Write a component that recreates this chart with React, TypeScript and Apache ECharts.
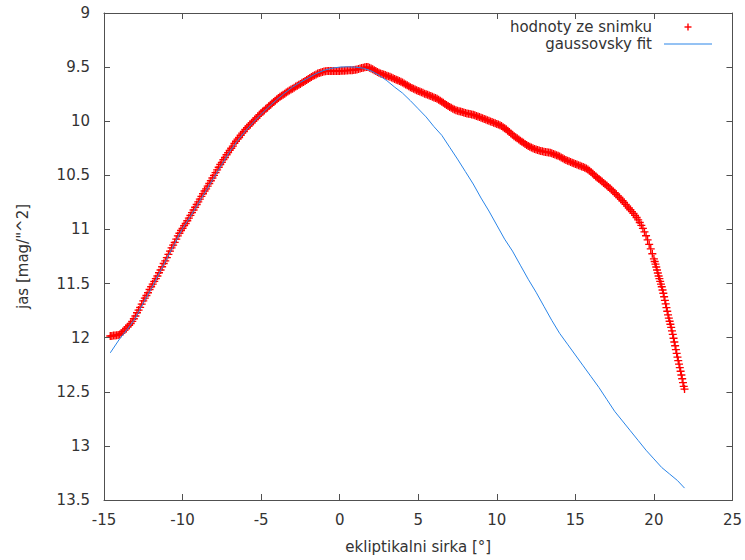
import React, { useEffect, useRef } from "react";
import * as echarts from "echarts";

// axis ranges / ticks
const xMin = -15;
const xMax = 25;
const xInterval = 5;
const yMin = 9;
const yMax = 13.5;
const yInterval = 0.5;

const xTitle = "ekliptikalni sirka [°]";
const yTitle = 'jas [mag/"^2]';
const legendData = "hodnoty ze snimku";
const legendFit = "gaussovsky fit";

// measured brightness ("hodnoty ze snimku"), sampled every 0.1 deg from -14.6
const hodnotyStart = -14.6;
const hodnotyStep = 0.1;
const hodnotyY = [
  11.985, 11.985, 11.98, 11.98, 11.978, 11.975, 11.97, 11.96, 11.945, 11.93,
  11.915, 11.9, 11.885, 11.87, 11.85, 11.825, 11.8, 11.77, 11.745, 11.72,
  11.69, 11.66, 11.635, 11.61, 11.585, 11.555, 11.53, 11.505, 11.48, 11.455,
  11.43, 11.4, 11.375, 11.345, 11.315, 11.29, 11.26, 11.23, 11.2, 11.17,
  11.145, 11.12, 11.09, 11.06, 11.035, 11.01, 10.99, 10.965, 10.945, 10.92,
  10.895, 10.87, 10.845, 10.82, 10.795, 10.77, 10.745, 10.72, 10.695, 10.67,
  10.645, 10.625, 10.6, 10.575, 10.55, 10.525, 10.5, 10.475, 10.45, 10.425,
  10.4, 10.38, 10.355, 10.335, 10.31, 10.29, 10.27, 10.25, 10.23, 10.205,
  10.185, 10.165, 10.15, 10.13, 10.11, 10.095, 10.075, 10.06, 10.045, 10.03,
  10.015, 10.0, 9.985, 9.97, 9.955, 9.94, 9.925, 9.91, 9.9, 9.885,
  9.875, 9.86, 9.848, 9.835, 9.822, 9.81, 9.797, 9.785, 9.775, 9.765,
  9.755, 9.745, 9.735, 9.725, 9.715, 9.707, 9.7, 9.69, 9.68, 9.672,
  9.663, 9.655, 9.645, 9.637, 9.628, 9.62, 9.61, 9.6, 9.592, 9.583,
  9.575, 9.568, 9.56, 9.555, 9.55, 9.545, 9.54, 9.538, 9.537, 9.536,
  9.536, 9.535, 9.535, 9.536, 9.536, 9.535, 9.535, 9.534, 9.534, 9.533,
  9.532, 9.531, 9.53, 9.53, 9.528, 9.527, 9.525, 9.522, 9.518, 9.513,
  9.508, 9.505, 9.502, 9.5, 9.5, 9.505, 9.512, 9.52, 9.528, 9.536,
  9.545, 9.552, 9.558, 9.563, 9.568, 9.574, 9.579, 9.585, 9.59, 9.597,
  9.603, 9.61, 9.616, 9.622, 9.629, 9.635, 9.643, 9.652, 9.66, 9.668,
  9.677, 9.685, 9.694, 9.7, 9.708, 9.714, 9.72, 9.726, 9.732, 9.738,
  9.745, 9.75, 9.756, 9.762, 9.768, 9.774, 9.78, 9.786, 9.793, 9.802,
  9.81, 9.82, 9.83, 9.84, 9.85, 9.86, 9.868, 9.876, 9.884, 9.891,
  9.898, 9.903, 9.907, 9.911, 9.915, 9.92, 9.925, 9.928, 9.931, 9.934,
  9.937, 9.94, 9.945, 9.951, 9.957, 9.962, 9.968, 9.973, 9.979, 9.985,
  9.99, 9.996, 10.002, 10.008, 10.013, 10.019, 10.025, 10.03, 10.037, 10.045,
  10.055, 10.065, 10.075, 10.088, 10.1, 10.113, 10.126, 10.138, 10.148, 10.158,
  10.168, 10.18, 10.19, 10.2, 10.21, 10.22, 10.228, 10.236, 10.243, 10.25,
  10.256, 10.262, 10.267, 10.271, 10.275, 10.278, 10.281, 10.284, 10.286, 10.288,
  10.291, 10.296, 10.302, 10.308, 10.314, 10.32, 10.327, 10.335, 10.343, 10.351,
  10.359, 10.365, 10.371, 10.377, 10.383, 10.389, 10.395, 10.401, 10.406, 10.412,
  10.418, 10.424, 10.43, 10.437, 10.447, 10.458, 10.47, 10.483, 10.496, 10.51,
  10.522, 10.534, 10.546, 10.558, 10.57, 10.582, 10.594, 10.607, 10.62, 10.633,
  10.646, 10.66, 10.675, 10.69, 10.705, 10.72, 10.735, 10.751, 10.768, 10.785,
  10.802, 10.818, 10.835, 10.852, 10.87, 10.89, 10.912, 10.936, 10.962, 10.99,
  11.022, 11.058, 11.097, 11.138, 11.18, 11.225,
];

// steep tail of the measured data, sampled every 0.05 deg from 20.0
const hodnotyTailStart = 20.0;
const hodnotyTailStep = 0.05;
const hodnotyTailY = [
  11.272, 11.296, 11.32, 11.347, 11.375, 11.402, 11.43, 11.455, 11.48, 11.505,
  11.53, 11.56, 11.59, 11.622, 11.655, 11.688, 11.722, 11.756, 11.79, 11.819,
  11.848, 11.876, 11.905, 11.937, 11.97, 12.005, 12.04, 12.075, 12.11, 12.145,
  12.18, 12.212, 12.245, 12.277, 12.31, 12.345, 12.38, 12.415, 12.45, 12.475,
];

// gaussian fit line
const fitX = [
  -14.6, -14.0, -13.5, -13.0, -12.5, -12.0, -11.5, -11.0, -10.5, -10.0,
  -9.5, -9.0, -8.5, -8.0, -7.5, -7.0, -6.5, -6.0, -5.5, -5.0,
  -4.5, -4.0, -3.5, -3.0, -2.5, -2.0, -1.5, -1.0, -0.5, 0.0,
  0.5, 1.0, 1.5, 2.0, 2.5, 3.0, 3.5, 4.0, 4.5, 5.0,
  5.5, 6.0, 6.5, 7.0, 7.5, 8.0, 8.5, 9.0, 9.5, 10.0,
  10.5, 11.0, 11.5, 12.0, 12.5, 13.0, 13.5, 14.0, 14.5, 15.0,
  15.5, 16.0, 16.5, 17.0, 17.5, 18.0, 18.5, 19.0, 19.5, 20.0,
  20.5, 21.0, 21.5, 21.95,
];
const fitY = [
  12.14, 12.01, 11.92, 11.82, 11.68, 11.55, 11.41, 11.27, 11.13, 10.99,
  10.88, 10.76, 10.64, 10.52, 10.4, 10.28, 10.18, 10.09, 10.01, 9.935,
  9.865, 9.8, 9.74, 9.685, 9.64, 9.6, 9.56, 9.53, 9.51, 9.5,
  9.497, 9.5, 9.51, 9.535, 9.575, 9.625, 9.685, 9.74, 9.81, 9.885,
  9.96, 10.05, 10.13, 10.24, 10.35, 10.465, 10.58, 10.71, 10.83, 10.96,
  11.09, 11.2, 11.33, 11.46, 11.58, 11.71, 11.84, 11.96, 12.06, 12.16,
  12.26, 12.36, 12.46, 12.57, 12.68, 12.77, 12.86, 12.95, 13.04, 13.12,
  13.2, 13.26, 13.32, 13.39,
];

const RED = "#ff0000";
const BLUE = "#2a85e8";
const AXIS = "#505050";
const TEXT = "#333333";
const FONT = "DejaVu Sans";
const PLUS = "path://M4.15,0H5.85V4.15H10V5.85H5.85V10H4.15V5.85H0V4.15H4.15Z";

const r2 = (v: number) => Math.round(v * 1000) / 1000;

export default function App() {
  const ref = useRef<HTMLDivElement>(null);

  useEffect(() => {
    if (!ref.current) return;
    const chart = echarts.init(ref.current, null, { renderer: "svg" });

    const redData: [number, number][] = [];
    hodnotyY.forEach((y, i) => redData.push([r2(hodnotyStart + i * hodnotyStep), y]));
    hodnotyTailY.forEach((y, i) => redData.push([r2(hodnotyTailStart + i * hodnotyTailStep), y]));
    const fitData = fitX.map((x, i) => [x, fitY[i]]);

    const axisLine = { show: true, onZero: false, lineStyle: { color: AXIS, width: 1 } };
    const axisTick = { show: true, inside: true, length: 6, lineStyle: { color: AXIS, width: 1 } };

    chart.setOption({
      animation: false,
      textStyle: { fontFamily: FONT },
      grid: { left: 104, right: 12, top: 13, bottom: 60, containLabel: false },
      xAxis: [
        {
          type: "value",
          position: "bottom",
          min: xMin,
          max: xMax,
          interval: xInterval,
          axisLine,
          axisTick,
          splitLine: { show: false },
          axisLabel: {
            color: TEXT,
            fontSize: 15,
            fontFamily: FONT,
            margin: 12,
            showMinLabel: true,
            showMaxLabel: true,
          },
          name: xTitle,
          nameLocation: "middle",
          nameGap: 39,
          nameTextStyle: { color: TEXT, fontSize: 15, fontFamily: FONT },
        },
        {
          type: "value",
          position: "top",
          min: xMin,
          max: xMax,
          interval: xInterval,
          axisLine,
          axisTick,
          splitLine: { show: false },
          axisLabel: { show: false },
        },
      ],
      yAxis: [
        {
          type: "value",
          position: "left",
          inverse: true,
          min: yMin,
          max: yMax,
          interval: yInterval,
          axisLine,
          axisTick,
          splitLine: { show: false },
          axisLabel: {
            color: TEXT,
            fontSize: 15,
            fontFamily: FONT,
            margin: 14,
            showMinLabel: true,
            showMaxLabel: true,
          },
          name: yTitle,
          nameLocation: "middle",
          nameRotate: 90,
          nameGap: 74,
          nameTextStyle: { color: TEXT, fontSize: 15, fontFamily: FONT },
        },
        {
          type: "value",
          position: "right",
          inverse: true,
          min: yMin,
          max: yMax,
          interval: yInterval,
          axisLine,
          axisTick,
          splitLine: { show: false },
          axisLabel: { show: false },
        },
      ],
      series: [
        {
          type: "scatter",
          name: legendData,
          xAxisIndex: 0,
          yAxisIndex: 0,
          data: redData,
          symbol: PLUS,
          symbolSize: 8,
          itemStyle: { color: RED, opacity: 1 },
          silent: true,
        },
        {
          type: "line",
          name: legendFit,
          xAxisIndex: 0,
          yAxisIndex: 0,
          data: fitData,
          showSymbol: false,
          symbol: "none",
          smooth: false,
          lineStyle: { color: BLUE, width: 1 },
          silent: true,
        },
      ],
      graphic: [
        {
          type: "text",
          x: 652,
          y: 27,
          style: {
            text: legendData,
            fill: TEXT,
            font: `15px "${FONT}"`,
            textAlign: "right",
            textVerticalAlign: "middle",
          },
        },
        {
          type: "line",
          shape: { x1: 684.5, y1: 27, x2: 691.5, y2: 27 },
          style: { stroke: RED, lineWidth: 1.4 },
        },
        {
          type: "line",
          shape: { x1: 688, y1: 23.5, x2: 688, y2: 30.5 },
          style: { stroke: RED, lineWidth: 1.4 },
        },
        {
          type: "text",
          x: 652,
          y: 44,
          style: {
            text: legendFit,
            fill: TEXT,
            font: `15px "${FONT}"`,
            textAlign: "right",
            textVerticalAlign: "middle",
          },
        },
        {
          type: "line",
          shape: { x1: 664, y1: 44, x2: 712, y2: 44 },
          style: { stroke: BLUE, lineWidth: 1 },
        },
      ],
    });

    return () => chart.dispose();
  }, []);

  return (
    <div
      ref={ref}
      style={{ position: "absolute", left: 0, top: 0, width: 745, height: 560, background: "#fff" }}
    />
  );
}
